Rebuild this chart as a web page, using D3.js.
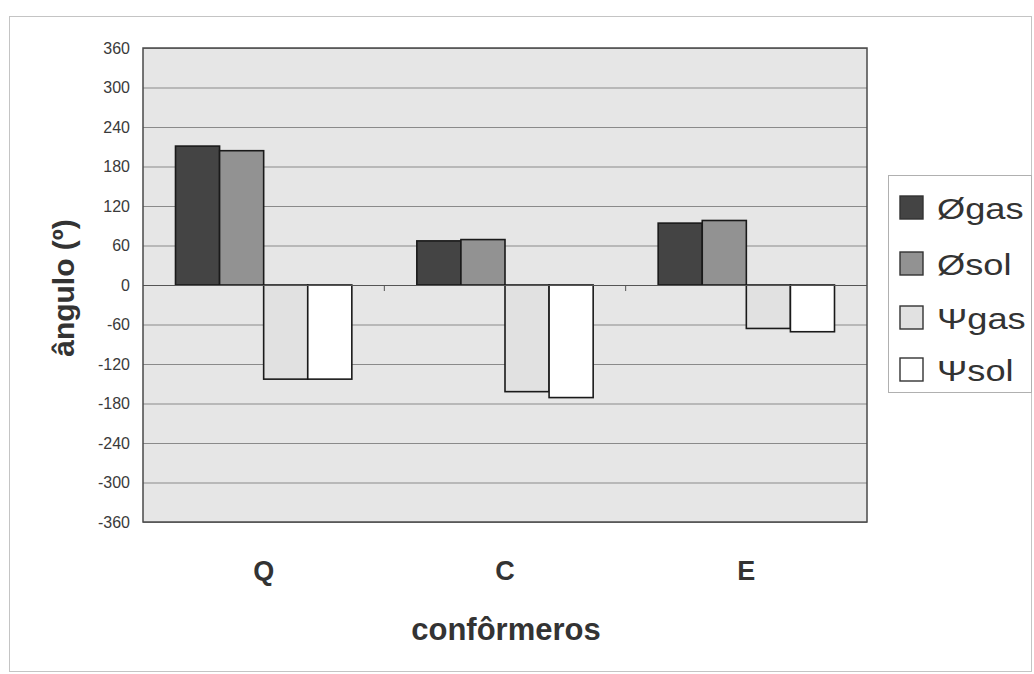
<!DOCTYPE html>
<html>
<head>
<meta charset="utf-8">
<script src="https://cdn.jsdelivr.net/npm/d3@7"></script>
<style>
  html, body { margin: 0; padding: 0; background: #fff; }
  svg { display: block; font-family: "Liberation Sans", Arial, sans-serif; }
</style>
</head>
<body>
<svg id="chart" width="1034" height="674"></svg>
<script>
const categories = ["Q", "C", "E"];
const seriesNames = ["Øgas", "Øsol", "Ψgas", "Ψsol"];
const phiGas = [211, 67, 94];
const phiSol = [204, 69, 98];
const psiGas = [-143, -162, -66];
const psiSol = [-143, -171, -71];
const yTicks = [360, 300, 240, 180, 120, 60, 0, -60, -120, -180, -240, -300, -360];
const seriesValues = [phiGas, phiSol, psiGas, psiSol];
const seriesColors = ["#444444", "#929292", "#e1e1e1", "#ffffff"];

const svg = d3.select("#chart");
const plot = { left: 143, right: 867, top: 48, bottom: 522 };

// outer frame
svg.append("rect").attr("x", 9.5).attr("y", 16.5).attr("width", 1022).attr("height", 655)
  .attr("fill", "#fff").attr("stroke", "#c4c4c4").attr("stroke-width", 1);

const y = d3.scaleLinear().domain([-360, 360]).range([plot.bottom, plot.top]);
const x0 = d3.scaleBand().domain(categories).range([plot.left, plot.right]).padding(0);
const x1 = d3.scaleBand().domain(seriesNames).range([32.5, x0.bandwidth() - 32.5]).padding(0);

// plot background
svg.append("rect").attr("x", plot.left).attr("y", plot.top)
  .attr("width", plot.right - plot.left).attr("height", plot.bottom - plot.top)
  .attr("fill", "#e6e6e6");

// gridlines
svg.append("g").selectAll("line").data(yTicks).join("line")
  .attr("x1", plot.left).attr("x2", plot.right)
  .attr("y1", d => y(d) + 0.5).attr("y2", d => y(d) + 0.5)
  .attr("stroke", "#8a8a8a").attr("stroke-width", 1);

// y axis labels
const yAxis = d3.axisLeft(y).tickValues(yTicks).tickSize(0).tickPadding(13)
  .tickFormat(d => String(d));
const gy = svg.append("g").attr("transform", `translate(${plot.left},0)`).call(yAxis);
gy.select(".domain").remove();
gy.selectAll("text").attr("font-size", 16).attr("fill", "#3a3a3a")
  .attr("font-family", "Liberation Sans, Arial, sans-serif");

// bars
const groups = svg.append("g").selectAll("g").data(categories).join("g")
  .attr("transform", d => `translate(${x0(d)},0)`);
groups.selectAll("rect").data((d, i) => seriesNames.map((s, j) => ({ s, j, v: seriesValues[j][i] })))
  .join("rect")
  .attr("x", d => x1(d.s))
  .attr("width", x1.bandwidth())
  .attr("y", d => y(Math.max(0, d.v)))
  .attr("height", d => Math.abs(y(d.v) - y(0)))
  .attr("fill", d => seriesColors[d.j])
  .attr("stroke", "#1a1a1a").attr("stroke-width", 1.6);

// category axis at zero with ticks at band boundaries
svg.append("line").attr("x1", plot.left).attr("x2", plot.right)
  .attr("y1", y(0) + 0.5).attr("y2", y(0) + 0.5).attr("stroke", "#555").attr("stroke-width", 1);
const bounds = categories.slice(1).map(c => x0(c));
svg.append("g").selectAll("line").data(bounds).join("line")
  .attr("x1", d => d).attr("x2", d => d)
  .attr("y1", y(0)).attr("y2", y(0) + 6).attr("stroke", "#555").attr("stroke-width", 1);

// plot border
svg.append("rect").attr("x", plot.left).attr("y", plot.top)
  .attr("width", plot.right - plot.left).attr("height", plot.bottom - plot.top)
  .attr("fill", "none").attr("stroke", "#4a4a4a").attr("stroke-width", 1.5);

// category labels
svg.append("g").selectAll("text").data(categories).join("text")
  .attr("x", d => x0(d) + x0.bandwidth() / 2)
  .attr("y", 580)
  .attr("text-anchor", "middle")
  .attr("font-size", 27).attr("font-weight", "bold").attr("fill", "#333")
  .text(d => d);

// axis titles
svg.append("text").attr("x", 506).attr("y", 640).attr("text-anchor", "middle")
  .attr("font-size", 31).attr("font-weight", "bold").attr("fill", "#333")
  .text("confôrmeros");
svg.append("text").attr("transform", "translate(74,288) rotate(-90)")
  .attr("text-anchor", "middle")
  .attr("font-size", 30).attr("font-weight", "bold").attr("fill", "#333")
  .text("ângulo (º)");

// legend
const leg = svg.append("g");
leg.append("rect").attr("x", 888.5).attr("y", 175.5).attr("width", 143).attr("height", 217)
  .attr("fill", "#fff").attr("stroke", "#b0b0b0").attr("stroke-width", 1);
const rowsY = [208, 264, 318, 370];
const items = leg.selectAll("g.item").data(seriesNames).join("g").attr("class", "item")
  .attr("transform", (d, i) => `translate(900,${rowsY[i]})`);
items.append("rect").attr("x", 0).attr("y", -12).attr("width", 23).attr("height", 23)
  .attr("fill", (d, i) => seriesColors[i]).attr("stroke", "#333").attr("stroke-width", 1.4);
items.append("text").attr("transform", "translate(37,11) scale(1.25,1)")
  .attr("font-size", 29).attr("fill", "#333")
  .text(d => d);
</script>
</body>
</html>
